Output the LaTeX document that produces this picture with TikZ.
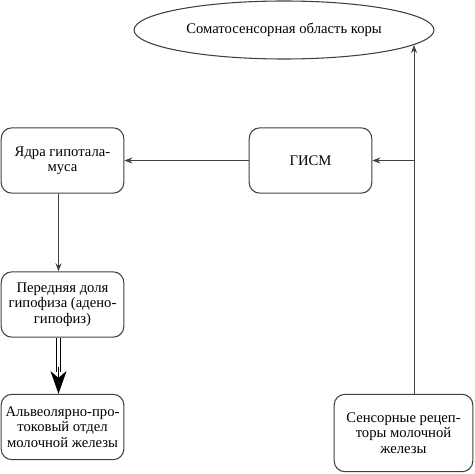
\documentclass[tikz,border=0pt]{standalone}
\usepackage{fontspec}
\setmainfont{Liberation Serif}
\usetikzlibrary{shapes.geometric,arrows.meta}

\begin{document}
\begin{tikzpicture}[x=0.75pt, y=-0.75pt, font=\fontsize{11}{11.5}\selectfont,
	box/.style={draw=black!75, line width=0.8pt, rounded corners=8pt, align=center, inner sep=2pt, minimum width=92pt, minimum height=49pt},
	link/.style={draw=black!75, line width=0.7pt, -{Stealth[length=6pt, width=4.5pt]}}]

\useasboundingbox (0,0) rectangle (474,474);

\node[draw=black!75, line width=0.8pt, ellipse, minimum width=225pt, minimum height=43.5pt] (cortex) at (284,30) {Соматосенсорная область коры};

\node[box] (hypo) at (62.5,160.5) {Ядра гипотала-\\муса};
\node[box] (gism) at (310.5,160.5) {ГИСМ};
\node[box] (adeno) at (62.5,304.5) {Передняя доля\\гипофиза (адено-\\гипофиз)};
\node[box] (alveo) at (62.5,427) {Альвеолярно-про-\\токовый отдел\\молочной железы};
\node[box, minimum width=104pt, minimum height=58pt] (sensor) at (403.5,433) {Сенсорные рецеп-\\торы молочной\\железы};

\coordinate (rise) at (414,394);
\coordinate (tip) at (414,45);
\coordinate (shaft) at (58.5,372);

\draw[link] (rise) -- (tip);
\draw[link] (rise |- gism.east) -- (gism.east);
\draw[link] (gism.west) -- (hypo.east);
\draw[link] (hypo.south -| shaft) -- (adeno.north -| shaft);
% double shaft, heavy head
\draw[black, line width=0.8pt, double, double distance=2pt] (adeno.south -| shaft) -- (shaft);
\draw[black, line width=0.8pt, -{Stealth[length=17pt, width=12pt, inset=5pt]}] ([yshift=4pt]shaft) -- (alveo.north -| shaft);

\end{tikzpicture}
\end{document}
